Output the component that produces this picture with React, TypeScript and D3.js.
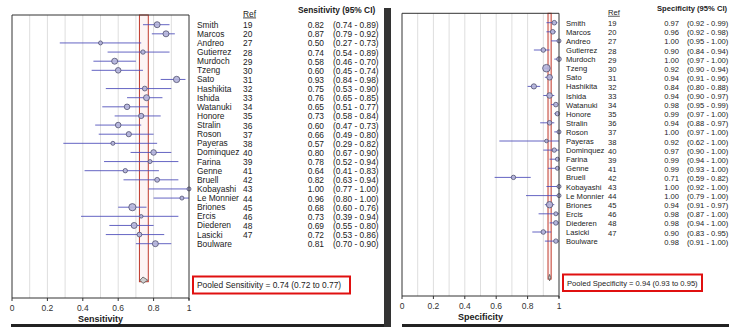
import React from 'react';
import * as d3 from 'd3';

const studies = [
  'Smith', 'Marcos', 'Andreo', 'Gutierrez', 'Murdoch', 'Tzeng', 'Sato', 'Hashikita',
  'Ishida', 'Watanuki', 'Honore', 'Stralin', 'Roson', 'Payeras', 'Dominquez', 'Farina',
  'Genne', 'Bruell', 'Kobayashi', 'Le Monnier', 'Briones', 'Ercis', 'Diederen', 'Lasicki',
  'Boulware',
];
const refs = [
  '19', '20', '27', '28', '29', '30', '31', '32', '33', '34', '35', '36', '37', '38', '40',
  '39', '41', '42', '43', '44', '45', '46', '48', '47', '',
];

const sensValue = [0.82, 0.87, 0.5, 0.74, 0.58, 0.6, 0.93, 0.75, 0.76, 0.65, 0.73, 0.6, 0.66, 0.57, 0.8, 0.78, 0.64, 0.82, 1.0, 0.96, 0.68, 0.73, 0.69, 0.72, 0.81];
const sensLow = [0.74, 0.79, 0.27, 0.54, 0.46, 0.45, 0.84, 0.53, 0.65, 0.51, 0.58, 0.47, 0.49, 0.29, 0.67, 0.52, 0.41, 0.63, 0.77, 0.8, 0.6, 0.39, 0.55, 0.53, 0.7];
const sensHigh = [0.89, 0.92, 0.73, 0.89, 0.7, 0.74, 0.98, 0.9, 0.85, 0.77, 0.84, 0.73, 0.8, 0.82, 0.9, 0.94, 0.83, 0.94, 1.0, 1.0, 0.76, 0.94, 0.8, 0.86, 0.9];
const sensWeight = [90, 90, 40, 48, 90, 78, 100, 58, 90, 78, 68, 78, 68, 40, 78, 40, 48, 58, 40, 40, 130, 32, 90, 58, 90];
const sensPooled = [0.74, 0.72, 0.77];

const specValue = [0.97, 0.96, 1.0, 0.9, 1.0, 0.92, 0.94, 0.84, 0.94, 0.98, 0.99, 0.94, 1.0, 0.92, 0.97, 0.99, 0.99, 0.71, 1.0, 1.0, 0.94, 0.98, 0.98, 0.9, 0.98];
const specLow = [0.92, 0.92, 0.95, 0.84, 0.97, 0.9, 0.91, 0.8, 0.9, 0.95, 0.97, 0.88, 0.97, 0.62, 0.9, 0.94, 0.93, 0.59, 0.92, 0.79, 0.91, 0.87, 0.94, 0.83, 0.91];
const specHigh = [0.99, 0.98, 1.0, 0.94, 1.0, 0.94, 0.96, 0.88, 0.97, 0.99, 1.0, 0.97, 1.0, 1.0, 1.0, 1.0, 1.0, 0.82, 1.0, 1.0, 0.97, 1.0, 1.0, 0.95, 1.0];
const specWeight = [53, 53, 40, 53, 53, 144, 78, 68, 78, 53, 48, 53, 40, 32, 48, 40, 40, 48, 40, 40, 102, 40, 53, 53, 48];
const specPooled = [0.94, 0.93, 0.95];

const xTicks = [0, 0.2, 0.4, 0.6, 0.8, 1];
const gridTicks = [0.1, 0.2, 0.3, 0.4, 0.5, 0.6, 0.7, 0.8, 0.9];

const FONT = 'Arial, "Liberation Sans", sans-serif';

interface PanelProps {
  label: string;
  value: number[];
  low: number[];
  high: number[];
  weight: number[];
  pooled: number[];
  x0: number;
  x1: number;
  top: number;
  axisY: number;
  firstRow: number;
  rowGap: number;
  nameX: number;
  refX: number;
  valX: number;
  ciX: number;
  headX: number;
  box: [number, number, number, number];
  fontSize: number;
  maxR: number;
}

const fmt = d3.format('.2f');

function ForestPanel(p: PanelProps) {
  const x = d3.scaleLinear().domain([0, 1]).range([p.x0, p.x1]);
  const y = (i: number) => p.firstRow + i * p.rowGap;
  const r = d3.scaleSqrt().domain([0, d3.max(p.weight) || 1]).range([0, p.maxR]);
  const diamondY = y(studies.length - 1) + 36.5;
  const dH = 3.2;
  const diamond = d3.line()([
    [x(p.pooled[1]) + 0.5, diamondY],
    [x(p.pooled[0]), diamondY - dH],
    [x(p.pooled[2]) - 0.5, diamondY],
    [x(p.pooled[0]), diamondY + dH],
  ]) + 'Z';
  const fs = p.fontSize;

  return (
    <g fontFamily={FONT}>
      {gridTicks.map(t => (
        <line key={t} x1={x(t)} x2={x(t)} y1={p.top} y2={p.axisY} stroke="#dedede" strokeWidth={1} />
      ))}
      {/* pooled CI band */}
      <rect x={x(p.pooled[1])} y={p.top} width={x(p.pooled[2]) - x(p.pooled[1])} height={diamondY + 1.5 - p.top}
        fill="rgba(230,120,120,0.08)" stroke="#c0392b" strokeWidth={1} />
      {studies.map((s, i) => (
        <g key={s}>
          <line x1={x(p.low[i])} x2={x(p.high[i])} y1={y(i)} y2={y(i)} stroke="#4a4ab8" strokeOpacity={0.85} strokeWidth={1} />
          <circle cx={x(p.value[i])} cy={y(i)} r={r(p.weight[i])} fill="#b5b5dc" fillOpacity={0.9} stroke="#505070" strokeWidth={0.8} />
        </g>
      ))}
      <path d={diamond} fill="#cfcfcf" stroke="#555" strokeWidth={0.8} />
      {/* frame */}
      <path d={`M${p.x0},${p.axisY}V${p.top}H${p.x1}V${p.axisY + 2}`} fill="none" stroke="#333" strokeWidth={1} />
      <line x1={p.x0} x2={p.x1} y1={p.axisY} y2={p.axisY} stroke="#333" strokeWidth={1} />
      {xTicks.map(t => (
        <g key={t}>
          <line x1={x(t)} x2={x(t)} y1={p.axisY} y2={p.axisY + 3} stroke="#333" strokeWidth={1} />
          <text x={x(t)} y={p.axisY + 13} textAnchor="middle" fontSize={8.5} fill="#333">{String(t)}</text>
        </g>
      ))}
      <text x={(p.x0 + p.x1) / 2} y={p.axisY + 24} textAnchor="middle" fontSize={9} fontWeight="bold" fill="#222">{p.label}</text>
      {/* table */}
      <text x={p.refX} y={p.top + 1.5} fontSize={fs} fill="#222" textDecoration="underline">Ref</text>
      <text x={p.headX} y={p.top - 2} fontSize={fs} fontWeight="bold" fill="#222">{`${p.label} (95% CI)`}</text>
      {studies.map((s, i) => (
        <g key={'t' + s} fontSize={fs} fill="#222">
          <text x={p.nameX} y={y(i) + 3}>{s}</text>
          <text x={p.refX} y={y(i) + 3.5}>{refs[i]}</text>
          <text x={p.valX} y={y(i) + 3.5} textAnchor="end">{fmt(p.value[i])}</text>
          <text x={p.ciX} y={y(i) + 3.5}>{`(${fmt(p.low[i])} - ${fmt(p.high[i])})`}</text>
        </g>
      ))}
      <rect x={p.box[0]} y={p.box[1]} width={p.box[2] - p.box[0]} height={p.box[3] - p.box[1]} fill="#fff" stroke="#e01010" strokeWidth={2} />
      <text x={p.box[0] + 4} y={(p.box[1] + p.box[3]) / 2 + 3} fontSize={fs} fill="#222">
        {`Pooled ${p.label} = ${fmt(p.pooled[0])} (${fmt(p.pooled[1])} to ${fmt(p.pooled[2])})`}
      </text>
    </g>
  );
}

export default function App() {
  return (
    <svg width={729} height={327} style={{ position: 'absolute', left: 0, top: 0, background: '#fff' }}>
      <rect width={729} height={327} fill="#fff" />
      <ForestPanel
        label="Sensitivity" value={sensValue} low={sensLow} high={sensHigh} weight={sensWeight} pooled={sensPooled}
        x0={12} x1={189} top={15} axisY={298} firstRow={24.7} rowGap={9.125}
        nameX={197} refX={243} valX={324} ciX={333} headX={298}
        box={[193, 276.5, 350, 293.5]} fontSize={8.4} maxR={3.6}
      />
      <ForestPanel
        label="Specificity" value={specValue} low={specLow} high={specHigh} weight={specWeight} pooled={specPooled}
        x0={402} x1={559} top={13.3} axisY={296} firstRow={22.7} rowGap={9.1}
        nameX={566} refX={608} valX={679} ciX={687} headX={657}
        box={[563, 274.5, 702, 291]} fontSize={7.6} maxR={3.8}
      />
      {/* dark frame bars of the screenshot */}
      <rect x={384} y={8} width={7} height={319} fill="#333" />
      <rect x={11} y={324} width={373} height={3} fill="#222" />
      <rect x={402} y={324} width={327} height={3} fill="#222" />
    </svg>
  );
}
